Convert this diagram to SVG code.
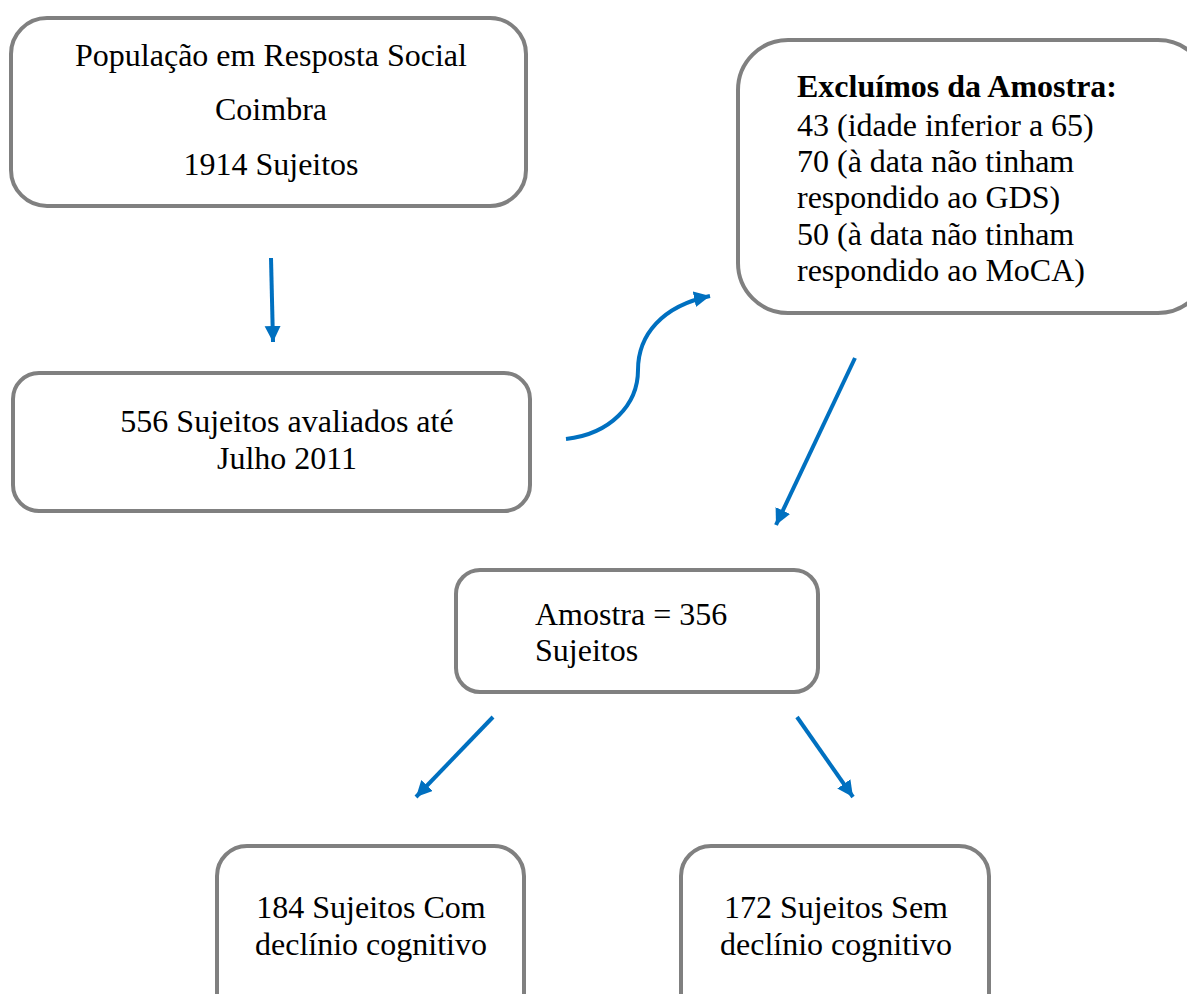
<svg xmlns="http://www.w3.org/2000/svg" width="1187" height="994" viewBox="0 0 1187 994">
<defs>
<marker id="ah" markerUnits="userSpaceOnUse" markerWidth="20" markerHeight="20" refX="16" refY="8" orient="auto">
<path d="M0,0 L16,8 L0,16 Z" fill="#0070C0"/>
</marker>
<style>
.box{fill:#fff;stroke:#808080;stroke-width:4}
.t{font-family:"Liberation Serif","Times New Roman",serif;font-size:32px;fill:#000}
.c{text-anchor:middle}
.b{font-weight:bold}
.conn{fill:none;stroke:#0070C0;stroke-width:4;marker-end:url(#ah)}
</style>
</defs>
<rect width="1187" height="994" fill="#fff"/>
<g id="n1">
<rect class="box" x="11" y="18" width="515" height="188" rx="36"/>
<text class="t c" x="271" y="66">População em Resposta Social</text>
<text class="t c" x="271" y="120">Coimbra</text>
<text class="t c" x="271" y="175">1914 Sujeitos</text>
</g>
<g id="n2">
<rect class="box" x="738" y="40" width="470" height="273" rx="50"/>
<text class="t b" x="797" y="97">Excluímos da Amostra:</text>
<text class="t" x="797" y="136">43 (idade inferior a 65)</text>
<text class="t" x="797" y="172">70 (à data não tinham</text>
<text class="t" x="797" y="208">respondido ao GDS)</text>
<text class="t" x="797" y="245">50 (à data não tinham</text>
<text class="t" x="797" y="281">respondido ao MoCA)</text>
</g>
<g id="n3">
<rect class="box" x="13" y="373" width="517" height="138" rx="26"/>
<text class="t c" x="287" y="432">556 Sujeitos avaliados até</text>
<text class="t c" x="287" y="469">Julho 2011</text>
</g>
<g id="n4">
<rect class="box" x="456" y="570" width="362" height="122" rx="24"/>
<text class="t" x="535" y="625">Amostra = 356</text>
<text class="t" x="535" y="661">Sujeitos</text>
</g>
<g id="n5">
<rect class="box" x="217" y="846" width="307" height="180" rx="30"/>
<text class="t c" x="371" y="918">184 Sujeitos Com</text>
<text class="t c" x="371" y="955">declínio cognitivo</text>
</g>
<g id="n6">
<rect class="box" x="681" y="846" width="308" height="180" rx="30"/>
<text class="t c" x="836" y="918">172 Sujeitos Sem</text>
<text class="t c" x="836" y="955">declínio cognitivo</text>
</g>
<g id="connectors">
<path class="conn" d="M271,258 L273,342"/>
<path class="conn" d="M566,439 C610,434 638,405 638,370 C638,335 662,306 710,296"/>
<path class="conn" d="M855,358 L776,525"/>
<path class="conn" d="M493,717 L416,797"/>
<path class="conn" d="M797,717 L853,797"/>
</g>
</svg>
